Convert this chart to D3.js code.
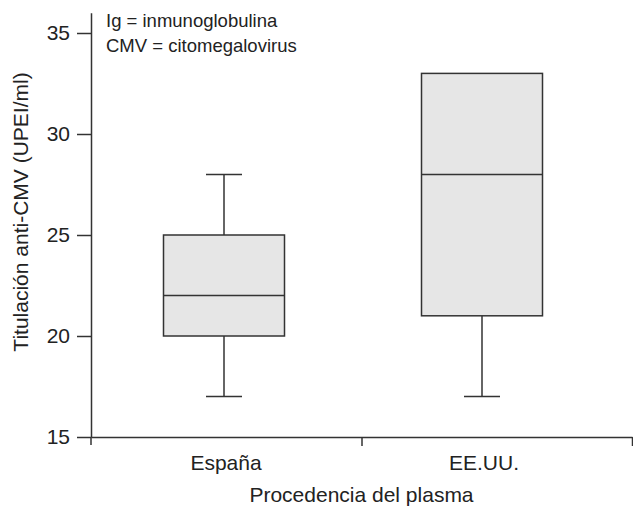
<!DOCTYPE html>
<html>
<head>
<meta charset="utf-8">
<script src="https://cdn.jsdelivr.net/npm/d3@7"></script>
<style>
  body { margin: 0; background: #fff; }
  text { font-family: "Liberation Sans", Arial, sans-serif; fill: #222; }
</style>
</head>
<body>
<div id="chart"></div>
<script>
// data
var categories = ["España", "EE.UU."];
var whiskerLow = [17, 17];
var q1 = [20, 21];
var medians = [22, 28];
var q3 = [25, 33];
var whiskerHigh = [28, 33];
var yTicks = [15, 20, 25, 30, 35];
var notes = ["Ig = inmunoglobulina", "CMV = citomegalovirus"];

var svgWidth = 633;
var svgHeight = 508;

var svg = d3.select("#chart")
  .append("svg")
    .attr("width", svgWidth)
    .attr("height", svgHeight);

// scales
var y = d3.scaleLinear()
  .domain([15, 36])
  .range([437, 12.8]);

var x = d3.scalePoint()
  .domain(categories)
  .range([224, 482]);

// x axis is split into two sections (boundary ticks)
var xBounds = d3.scaleLinear()
  .domain([0, 2])
  .range([91, 632]);

var boxWidth = 121;
var capWidth = 36;
var ink = "#333";

var boxes = categories.map(function(c, i) {
  return {cat: c, lo: whiskerLow[i], q1: q1[i], med: medians[i], q3: q3[i], hi: whiskerHigh[i]};
});

// axes
var yAxis = svg.append("g")
  .attr("transform", "translate(91,0)")
  .call(d3.axisLeft(y).tickValues(yTicks).tickSize(14).tickSizeOuter(0).tickPadding(7));
yAxis.selectAll("text").attr("font-size", "21px").attr("fill", "#222").attr("font-family", null);
yAxis.selectAll("line, path").attr("stroke", ink).attr("stroke-width", 1.5);

// small stub of y axis below the x axis
svg.append("line")
  .attr("x1", 91).attr("x2", 91)
  .attr("y1", y(15)).attr("y2", y(15) + 8)
  .attr("stroke", ink).attr("stroke-width", 1.5);

var xAxis = svg.append("g")
  .attr("transform", "translate(0," + y(15) + ")")
  .call(d3.axisBottom(xBounds).tickValues([1, 2]).tickSize(9).tickSizeOuter(0).tickFormat(""));
xAxis.selectAll("line, path").attr("stroke", ink).attr("stroke-width", 1.5);

// category labels
svg.selectAll(".cat")
  .data(categories)
  .enter()
  .append("text")
    .attr("x", function(d) { return x(d) + 2; })
    .attr("y", 470)
    .attr("text-anchor", "middle")
    .attr("font-size", "21px")
    .text(function(d) { return d; });

// whiskers
var g = svg.selectAll(".box")
  .data(boxes)
  .enter()
  .append("g");

g.append("line")
  .attr("x1", function(d) { return x(d.cat); })
  .attr("x2", function(d) { return x(d.cat); })
  .attr("y1", function(d) { return y(d.lo); })
  .attr("y2", function(d) { return y(d.q1); })
  .attr("stroke", ink).attr("stroke-width", 1.5);

g.append("line")
  .attr("x1", function(d) { return x(d.cat) - capWidth / 2; })
  .attr("x2", function(d) { return x(d.cat) + capWidth / 2; })
  .attr("y1", function(d) { return y(d.lo); })
  .attr("y2", function(d) { return y(d.lo); })
  .attr("stroke", ink).attr("stroke-width", 1.5);

var upper = g.filter(function(d) { return d.hi > d.q3; });
upper.append("line")
  .attr("x1", function(d) { return x(d.cat); })
  .attr("x2", function(d) { return x(d.cat); })
  .attr("y1", function(d) { return y(d.hi); })
  .attr("y2", function(d) { return y(d.q3); })
  .attr("stroke", ink).attr("stroke-width", 1.5);
upper.append("line")
  .attr("x1", function(d) { return x(d.cat) - capWidth / 2; })
  .attr("x2", function(d) { return x(d.cat) + capWidth / 2; })
  .attr("y1", function(d) { return y(d.hi); })
  .attr("y2", function(d) { return y(d.hi); })
  .attr("stroke", ink).attr("stroke-width", 1.5);

// boxes
g.append("rect")
  .attr("x", function(d) { return x(d.cat) - boxWidth / 2; })
  .attr("y", function(d) { return y(d.q3); })
  .attr("width", boxWidth)
  .attr("height", function(d) { return y(d.q1) - y(d.q3); })
  .attr("fill", "#e6e6e6")
  .attr("stroke", ink)
  .attr("stroke-width", 1.5);

g.append("line")
  .attr("x1", function(d) { return x(d.cat) - boxWidth / 2; })
  .attr("x2", function(d) { return x(d.cat) + boxWidth / 2; })
  .attr("y1", function(d) { return y(d.med); })
  .attr("y2", function(d) { return y(d.med); })
  .attr("stroke", ink).attr("stroke-width", 1.5);

// notes in top left corner
svg.selectAll(".note")
  .data(notes)
  .enter()
  .append("text")
    .attr("x", 106)
    .attr("y", function(d, i) { return 27 + i * 25; })
    .attr("font-size", "18.5px")
    .text(function(d) { return d; });

// axis titles
svg.append("text")
  .attr("transform", "translate(28,212) rotate(-90)")
  .attr("text-anchor", "middle")
  .attr("font-size", "21px")
  .text("Titulación anti-CMV (UPEI/ml)");

svg.append("text")
  .attr("x", xBounds(1))
  .attr("y", 502)
  .attr("text-anchor", "middle")
  .attr("font-size", "21px")
  .text("Procedencia del plasma");
</script>
</body>
</html>
